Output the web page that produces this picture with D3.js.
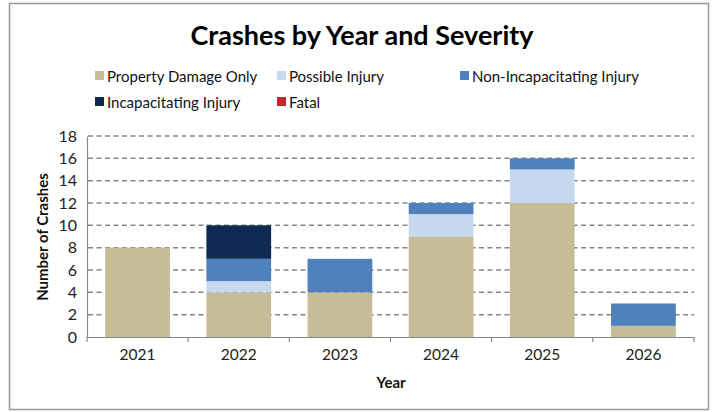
<!DOCTYPE html>
<html><head><meta charset="utf-8">
<script src="https://cdn.jsdelivr.net/npm/d3@7"></script>
<style>body{margin:0;background:#fff}svg{display:block}text{font-family:Lato,"Open Sans",sans-serif}</style>
</head><body>
<svg id="c" width="715" height="412"></svg>
<script>
const years = ["2021","2022","2023","2024","2025","2026"];
const seriesNames = ["Property Damage Only","Possible Injury","Non-Incapacitating Injury","Incapacitating Injury","Fatal"];
const seriesColors = ["#C4BD97","#C6D9F1","#4F81BD","#0F2A50","#C0272D"];
const propertyDamageOnly = [8,4,4,9,12,1];
const possibleInjury = [0,1,0,2,3,0];
const nonIncapacitatingInjury = [0,2,3,1,1,2];
const incapacitatingInjury = [0,3,0,0,0,0];
const fatal = [0,0,0,0,0,0];
const yTicks = [0,2,4,6,8,10,12,14,16,18];

const svg = d3.select("#c");
svg.append("rect").attr("x",9.5).attr("y",3.5).attr("width",699).attr("height",406)
  .attr("fill","#fff").attr("stroke","#999").attr("stroke-width",1.5);

const rows = years.map((y,i)=>({year:y,
  "Property Damage Only":propertyDamageOnly[i],
  "Possible Injury":possibleInjury[i],
  "Non-Incapacitating Injury":nonIncapacitatingInjury[i],
  "Incapacitating Injury":incapacitatingInjury[i],
  "Fatal":fatal[i]}));
const stack = d3.stack().keys(seriesNames)(rows);

const x = d3.scaleBand().domain(years).range([87,694]).paddingInner(0.36).paddingOuter(0.18);
const y = d3.scaleLinear().domain([0,18]).range([337,136]);

// gridlines
svg.append("g").selectAll("line").data(yTicks.filter(d=>d>0)).join("line")
  .attr("x1",88).attr("x2",694).attr("y1",d=>y(d)).attr("y2",d=>y(d))
  .attr("stroke","#858585").attr("stroke-width",1.5).attr("stroke-dasharray","5,3.5");

// bars
const color = d3.scaleOrdinal().domain(seriesNames).range(seriesColors);
svg.append("g").selectAll("g").data(stack).join("g").attr("fill",d=>color(d.key))
  .selectAll("rect").data(d=>d).join("rect")
  .attr("x",d=>x(d.data.year)).attr("width",x.bandwidth())
  .attr("y",d=>y(d[1])).attr("height",d=>y(d[0])-y(d[1]));

// y axis
const ya = svg.append("g").attr("transform","translate(87,0)")
  .call(d3.axisLeft(y).tickValues(yTicks).tickSize(0).tickPadding(10));
ya.select(".domain").attr("stroke","#888").attr("stroke-width",1.2);
ya.selectAll("text").attr("font-size",16).attr("fill","#222").attr("font-family","Lato,sans-serif");

// x axis
const xa = svg.append("g").attr("transform","translate(0,337)")
  .call(d3.axisBottom(x).tickSize(0).tickPadding(12));
xa.select(".domain").attr("stroke","#888").attr("stroke-width",1.2);
xa.selectAll("text").attr("font-size",15.5).attr("fill","#222").attr("font-family","Lato,sans-serif");
const bounds = d3.range(years.length+1).map(i=>87 + i*(694-87)/years.length);
svg.append("g").selectAll("line").data(bounds).join("line")
  .attr("x1",d=>d).attr("x2",d=>d).attr("y1",337).attr("y2",342)
  .attr("stroke","#888").attr("stroke-width",1.2);

// titles
svg.append("text").attr("x",362).attr("y",45).attr("text-anchor","middle")
  .attr("font-size",27).attr("font-weight","bold").attr("fill","#000")
  .text("Crashes by Year and Severity");
svg.append("text").attr("transform","translate(48,237) rotate(-90)").attr("text-anchor","middle")
  .attr("font-size",15).attr("font-weight","bold").attr("fill","#111").text("Number of Crashes");
svg.append("text").attr("x",391).attr("y",388).attr("text-anchor","middle")
  .attr("font-size",15).attr("font-weight","bold").attr("fill","#111").text("Year");

// legend
const legPos = [[95,76],[277,76],[460,76],[95,102],[277,102]];
const lg = svg.append("g").selectAll("g").data(seriesNames).join("g")
  .attr("transform",(d,i)=>`translate(${legPos[i][0]},${legPos[i][1]})`);
lg.append("rect").attr("x",0).attr("y",-5).attr("width",9).attr("height",9).attr("fill",d=>color(d));
lg.append("text").attr("x",12).attr("y",5.5).attr("font-size",15).attr("fill","#111").text(d=>d);
</script>
</body></html>
